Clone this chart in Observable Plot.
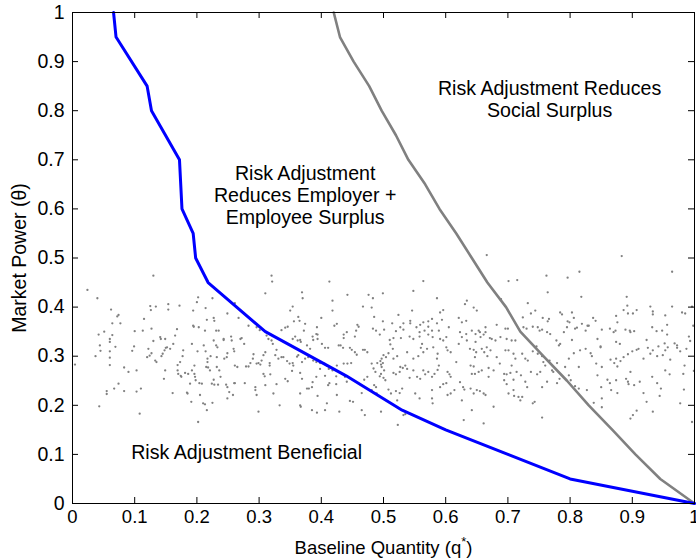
<!DOCTYPE html>
<html><head><meta charset="utf-8">
<script src="https://cdn.jsdelivr.net/npm/d3@7"></script>
<script src="https://cdn.jsdelivr.net/npm/@observablehq/plot@0.6"></script>
<style>
html,body{margin:0;padding:0;background:#fff;}
#chart{width:696px;height:560px;overflow:hidden;}
</style></head><body><div id="chart"></div>
<script>
const xTicks = [0, 0.1, 0.2, 0.3, 0.4, 0.5, 0.6, 0.7, 0.8, 0.9, 1];
const yTicks = [0, 0.1, 0.2, 0.3, 0.4, 0.5, 0.6, 0.7, 0.8, 0.9, 1];

// Employer + employee surplus boundary (blue)
const blueX = [0.066, 0.070, 0.120, 0.127, 0.172, 0.176, 0.194, 0.198, 0.218, 0.310, 0.440, 0.530, 0.600, 0.700, 0.800, 1.000];
const blueY = [1.00, 0.95, 0.85, 0.80, 0.70, 0.60, 0.55, 0.50, 0.45, 0.35, 0.26, 0.19, 0.15, 0.10, 0.05, 0.00];

// Social surplus boundary (gray)
const grayX = [0.420, 0.430, 0.452, 0.477, 0.497, 0.520, 0.540, 0.567, 0.590, 0.617, 0.642, 0.667, 0.697, 0.720, 0.757, 0.795, 0.830, 0.868, 0.905, 0.945, 1.000];
const grayY = [1.00, 0.95, 0.90, 0.85, 0.80, 0.75, 0.70, 0.65, 0.60, 0.55, 0.50, 0.45, 0.40, 0.35, 0.30, 0.25, 0.20, 0.15, 0.10, 0.05, 0.00];

// Firms (baseline quantity, market power)
const firms = [
[0.024,0.435],[0.040,0.418],[0.130,0.464],[0.004,0.283],[0.037,0.300],[0.042,0.344],[0.044,0.322],[0.045,0.311],[0.051,0.350],[0.060,0.335],[0.060,0.329],[0.060,0.310],[0.060,0.297],[0.060,0.282],[0.064,0.343],[0.062,0.395],[0.064,0.367],[0.072,0.381],[0.074,0.384],[0.077,0.367],[0.069,0.319],[0.083,0.277],[0.090,0.268],[0.055,0.229],[0.055,0.223],[0.067,0.234],[0.074,0.244],[0.083,0.229],[0.043,0.198],[0.108,0.183],[0.103,0.228],[0.110,0.234],[0.099,0.320],[0.096,0.311],[0.100,0.351],[0.103,0.271],[0.115,0.376],[0.113,0.352],[0.126,0.394],[0.125,0.402],[0.134,0.401],[0.127,0.356],[0.122,0.315],[0.120,0.298],[0.124,0.301],[0.127,0.306],[0.130,0.331],[0.133,0.291],[0.135,0.288],[0.141,0.339],[0.142,0.335],[0.143,0.300],[0.145,0.305],[0.148,0.312],[0.149,0.271],[0.147,0.254],[0.150,0.317],[0.152,0.318],[0.154,0.406],[0.154,0.395],[0.149,0.335],[0.157,0.315],[0.161,0.225],[0.162,0.325],[0.165,0.342],[0.168,0.355],[0.169,0.282],[0.172,0.403],[0.169,0.271],[0.170,0.264],[0.173,0.288],[0.174,0.260],[0.175,0.258],[0.177,0.300],[0.178,0.312],[0.181,0.266],[0.184,0.226],[0.185,0.224],[0.186,0.264],[0.189,0.244],[0.192,0.325],[0.192,0.271],[0.191,0.207],[0.194,0.393],[0.194,0.362],[0.195,0.360],[0.196,0.281],[0.196,0.264],[0.197,0.258],[0.198,0.251],[0.200,0.410],[0.202,0.420],[0.201,0.310],[0.203,0.359],[0.204,0.245],[0.205,0.221],[0.208,0.244],[0.210,0.204],[0.211,0.322],[0.213,0.352],[0.214,0.398],[0.214,0.310],[0.215,0.278],[0.216,0.374],[0.217,0.295],[0.217,0.288],[0.218,0.277],[0.221,0.271],[0.222,0.300],[0.224,0.244],[0.225,0.418],[0.227,0.378],[0.227,0.332],[0.228,0.372],[0.227,0.252],[0.228,0.242],[0.231,0.352],[0.231,0.322],[0.232,0.298],[0.232,0.278],[0.233,0.318],[0.234,0.242],[0.235,0.352],[0.236,0.271],[0.202,0.166],[0.225,0.205],[0.213,0.202],[0.216,0.190],
[0.320,0.464],[0.321,0.452],[0.413,0.452],[0.310,0.428],[0.369,0.430],[0.370,0.418],[0.442,0.425],[0.476,0.425],[0.418,0.413],[0.418,0.393],[0.467,0.401],[0.354,0.401],[0.350,0.393],[0.363,0.380],[0.356,0.371],[0.365,0.372],[0.400,0.378],[0.249,0.387],[0.267,0.378],[0.261,0.408],[0.425,0.366],[0.421,0.362],[0.458,0.364],[0.460,0.360],[0.283,0.362],[0.296,0.359],[0.301,0.353],[0.336,0.353],[0.342,0.358],[0.346,0.360],[0.374,0.366],[0.372,0.352],[0.393,0.359],[0.392,0.345],[0.441,0.349],[0.436,0.344],[0.436,0.337],[0.456,0.352],[0.454,0.340],[0.243,0.335],[0.243,0.333],[0.255,0.340],[0.256,0.332],[0.270,0.335],[0.272,0.337],[0.276,0.325],[0.312,0.342],[0.315,0.335],[0.320,0.332],[0.322,0.325],[0.328,0.313],[0.354,0.335],[0.358,0.340],[0.362,0.332],[0.366,0.333],[0.367,0.329],[0.377,0.322],[0.382,0.315],[0.386,0.340],[0.387,0.333],[0.394,0.344],[0.394,0.335],[0.401,0.325],[0.406,0.317],[0.411,0.317],[0.428,0.322],[0.431,0.322],[0.435,0.317],[0.446,0.317],[0.449,0.313],[0.454,0.308],[0.457,0.303],[0.467,0.313],[0.470,0.313],[0.474,0.308],[0.259,0.315],[0.260,0.310],[0.244,0.295],[0.249,0.306],[0.248,0.298],[0.261,0.281],[0.265,0.278],[0.279,0.279],[0.283,0.279],[0.286,0.286],[0.291,0.304],[0.290,0.295],[0.296,0.285],[0.299,0.286],[0.302,0.283],[0.307,0.302],[0.310,0.308],[0.304,0.291],[0.317,0.286],[0.317,0.281],[0.326,0.302],[0.331,0.295],[0.336,0.298],[0.339,0.298],[0.345,0.290],[0.349,0.285],[0.354,0.286],[0.355,0.281],[0.361,0.299],[0.363,0.302],[0.369,0.288],[0.374,0.295],[0.379,0.298],[0.387,0.291],[0.392,0.288],[0.398,0.286],[0.405,0.285],[0.409,0.281],[0.412,0.274],[0.418,0.271],[0.425,0.281],[0.436,0.285],[0.442,0.285],[0.448,0.286],[0.238,0.258],[0.247,0.242],[0.249,0.237],[0.252,0.227],[0.258,0.221],[0.260,0.245],[0.261,0.245],[0.249,0.214],[0.277,0.245],[0.294,0.231],[0.296,0.221],[0.294,0.237],[0.307,0.264],[0.309,0.259],[0.310,0.241],[0.318,0.263],[0.323,0.224],[0.328,0.243],[0.333,0.200],[0.342,0.254],[0.346,0.249],[0.353,0.270],[0.366,0.266],[0.366,0.224],[0.366,0.200],[0.367,0.197],[0.369,0.254],[0.377,0.234],[0.380,0.234],[0.385,0.237],[0.386,0.247],[0.392,0.258],[0.394,0.219],[0.398,0.274],[0.406,0.260],[0.411,0.241],[0.413,0.245],[0.409,0.204],[0.406,0.190],[0.424,0.259],[0.424,0.243],[0.425,0.221],[0.429,0.187],[0.438,0.258],[0.441,0.248],[0.446,0.209],[0.451,0.207],[0.465,0.225],[0.469,0.252],[0.465,0.190],[0.470,0.180],[0.474,0.258],[0.299,0.187],[0.385,0.190],[0.393,0.185],
[0.666,0.506],[0.564,0.453],[0.701,0.453],[0.715,0.455],[0.548,0.433],[0.483,0.418],[0.499,0.428],[0.586,0.418],[0.634,0.413],[0.631,0.406],[0.645,0.399],[0.650,0.393],[0.689,0.416],[0.481,0.399],[0.546,0.393],[0.591,0.389],[0.596,0.394],[0.485,0.380],[0.524,0.384],
[0.499,0.371],[0.514,0.367],[0.532,0.367],[0.543,0.372],[0.543,0.367],[0.559,0.364],[0.564,0.369],[0.572,0.371],[0.578,0.376],[0.586,0.367],[0.594,0.374],[0.621,0.378],[0.626,0.369],[0.633,0.372],[0.682,0.364],[0.696,0.356],[0.700,0.356],
[0.483,0.356],[0.488,0.352],[0.501,0.354],[0.520,0.351],[0.527,0.359],[0.532,0.354],[0.553,0.359],[0.558,0.349],[0.566,0.352],[0.572,0.360],[0.578,0.352],[0.589,0.352],[0.605,0.359],[0.623,0.349],[0.626,0.339],[0.633,0.345],[0.642,0.352],[0.648,0.345],[0.653,0.352],[0.655,0.349],[0.664,0.359],[0.664,0.349],[0.661,0.344],
[0.494,0.344],[0.510,0.333],[0.516,0.337],[0.528,0.337],[0.542,0.340],[0.548,0.335],[0.558,0.340],[0.572,0.344],[0.579,0.339],[0.591,0.335],[0.596,0.332],[0.601,0.339],[0.621,0.325],[0.634,0.332],[0.648,0.329],[0.656,0.339],[0.671,0.337],[0.674,0.335],[0.680,0.332],[0.688,0.339],[0.698,0.335],[0.706,0.332],[0.712,0.332],
[0.511,0.324],[0.515,0.315],[0.508,0.306],[0.500,0.302],[0.497,0.295],[0.504,0.298],[0.516,0.295],[0.522,0.300],[0.538,0.308],[0.548,0.295],[0.556,0.300],[0.562,0.325],[0.564,0.308],[0.560,0.317],[0.570,0.315],[0.580,0.318],[0.587,0.305],[0.586,0.295],[0.601,0.318],[0.603,0.312],[0.608,0.308],[0.639,0.315],[0.645,0.313],[0.649,0.308],[0.647,0.298],[0.658,0.315],[0.662,0.308],[0.667,0.300],[0.666,0.318],[0.672,0.312],[0.682,0.298],[0.696,0.312],[0.701,0.312],[0.709,0.305],[0.712,0.295],
[0.481,0.285],[0.490,0.286],[0.495,0.290],[0.496,0.283],[0.497,0.278],[0.499,0.286],[0.501,0.271],[0.484,0.275],[0.487,0.268],[0.496,0.264],[0.494,0.259],[0.500,0.256],[0.503,0.251],[0.485,0.241],[0.488,0.237],[0.481,0.231],[0.489,0.224],
[0.516,0.266],[0.520,0.263],[0.526,0.268],[0.527,0.278],[0.531,0.276],[0.535,0.281],[0.538,0.274],[0.542,0.256],[0.548,0.271],[0.554,0.258],[0.559,0.254],[0.564,0.271],[0.567,0.263],[0.572,0.268],[0.578,0.258],[0.582,0.264],[0.587,0.272],[0.589,0.281],[0.603,0.268],[0.606,0.263],[0.608,0.258],[0.617,0.288],[0.640,0.281],[0.645,0.279],[0.642,0.264],[0.647,0.264],[0.653,0.268],[0.658,0.271],[0.669,0.276],[0.669,0.258],[0.677,0.271],[0.687,0.285],[0.694,0.264],[0.698,0.263],[0.704,0.266],[0.709,0.252],[0.714,0.268],[0.706,0.281],
[0.508,0.232],[0.512,0.224],[0.520,0.229],[0.526,0.225],[0.522,0.210],[0.530,0.234],[0.551,0.224],[0.558,0.214],[0.578,0.214],[0.579,0.204],[0.578,0.231],[0.591,0.237],[0.596,0.243],[0.601,0.245],[0.603,0.221],[0.608,0.224],[0.614,0.231],[0.623,0.247],[0.628,0.237],[0.630,0.232],[0.626,0.210],[0.640,0.234],[0.645,0.224],[0.650,0.231],[0.655,0.229],[0.661,0.224],[0.664,0.221],[0.677,0.197],[0.694,0.251],[0.698,0.243],[0.701,0.224],[0.709,0.231],[0.710,0.219],[0.717,0.217],[0.642,0.190],[0.629,0.170],[0.661,0.163],[0.496,0.187],[0.532,0.180],[0.535,0.182],[0.523,0.160],
[0.883,0.504],[0.762,0.464],[0.796,0.460],[0.815,0.472],[0.964,0.472],[0.764,0.430],[0.818,0.421],[0.891,0.421],[0.732,0.408],
[0.724,0.379],[0.737,0.387],[0.744,0.393],[0.756,0.378],[0.766,0.376],[0.764,0.371],[0.784,0.389],[0.787,0.385],[0.796,0.371],[0.803,0.389],[0.806,0.378],[0.811,0.358],[0.819,0.366],[0.830,0.362],[0.837,0.378],[0.841,0.372],[0.874,0.382],[0.876,0.369],[0.886,0.394],[0.892,0.403],[0.893,0.387],[0.901,0.387],[0.907,0.394],[0.929,0.401],[0.933,0.391],[0.933,0.385],[0.953,0.383],[0.964,0.401],[0.980,0.389],[0.985,0.387],[0.996,0.401],
[0.725,0.359],[0.730,0.356],[0.740,0.360],[0.748,0.359],[0.751,0.352],[0.755,0.354],[0.763,0.349],[0.768,0.345],[0.778,0.332],[0.782,0.322],[0.784,0.325],[0.790,0.349],[0.795,0.359],[0.799,0.369],[0.803,0.333],[0.808,0.356],[0.825,0.352],[0.828,0.362],[0.844,0.335],[0.851,0.354],[0.849,0.320],[0.864,0.356],[0.870,0.349],[0.873,0.352],[0.874,0.329],[0.880,0.325],[0.889,0.354],[0.896,0.352],[0.897,0.349],[0.903,0.351],[0.923,0.333],[0.932,0.359],[0.939,0.351],[0.948,0.352],[0.952,0.326],[0.956,0.364],[0.956,0.344],[0.968,0.326],[0.972,0.322],[0.991,0.340],[0.993,0.331],[0.998,0.362],
[0.723,0.305],[0.728,0.295],[0.732,0.291],[0.740,0.310],[0.746,0.320],[0.748,0.305],[0.755,0.300],[0.757,0.288],[0.760,0.281],[0.767,0.291],[0.771,0.271],[0.779,0.286],[0.792,0.278],[0.798,0.295],[0.806,0.306],[0.814,0.278],[0.816,0.312],[0.825,0.315],[0.833,0.306],[0.835,0.300],[0.842,0.285],[0.849,0.318],[0.851,0.278],[0.865,0.293],[0.871,0.286],[0.874,0.295],[0.876,0.279],[0.881,0.290],[0.886,0.298],[0.893,0.304],[0.900,0.310],[0.907,0.313],[0.910,0.315],[0.918,0.295],[0.925,0.317],[0.929,0.305],[0.933,0.312],[0.940,0.300],[0.942,0.320],[0.949,0.302],[0.953,0.312],[0.957,0.318],[0.961,0.293],[0.972,0.317],[0.977,0.310],[0.984,0.281],[0.987,0.315],
[0.721,0.261],[0.728,0.248],[0.731,0.237],[0.737,0.268],[0.747,0.263],[0.752,0.268],[0.755,0.237],[0.763,0.248],[0.773,0.268],[0.779,0.245],[0.783,0.254],[0.798,0.261],[0.801,0.251],[0.808,0.239],[0.814,0.234],[0.827,0.231],[0.844,0.261],[0.850,0.237],[0.860,0.252],[0.864,0.245],[0.866,0.231],[0.874,0.251],[0.876,0.225],[0.890,0.254],[0.893,0.248],[0.894,0.243],[0.897,0.268],[0.903,0.241],[0.912,0.248],[0.918,0.225],[0.932,0.258],[0.940,0.245],[0.946,0.234],[0.953,0.271],[0.960,0.263],[0.982,0.264],[0.983,0.232],[0.999,0.270],
[0.720,0.210],[0.723,0.217],[0.740,0.204],[0.743,0.207],[0.755,0.175],[0.838,0.205],[0.851,0.214],[0.851,0.196],[0.897,0.173],[0.901,0.180],[0.907,0.189],[0.923,0.207],[0.933,0.187],[0.944,0.219],[0.977,0.204],[0.996,0.166]
];

const annX = [0.767, 0.374, 0.280];
const annY = [0.823, 0.629, 0.104];
const annText = [
  "Risk Adjustment Reduces\nSocial Surplus",
  "Risk Adjustment\nReduces Employer +\nEmployee Surplus",
  "Risk Adjustment Beneficial"
];

const blue = blueX.map((x, i) => ({x, y: blueY[i]}));
const gray = grayX.map((x, i) => ({x, y: grayY[i]}));
const annotations = annX.map((x, i) => ({x, y: annY[i], text: annText[i]}));
const fmt = d => String(d);
const font = '"Liberation Sans", Arial, Helvetica, sans-serif';

const W = 696, H = 560, ML = 72, MR = 2, MT = 12, MB = 57, TICK = 6;
const innerW = W - ML - MR, innerH = H - MT - MB;

const plot = Plot.plot({
  width: W,
  height: H,
  marginLeft: ML,
  marginRight: MR,
  marginTop: MT,
  marginBottom: MB,
  style: {fontFamily: font, fontSize: "18.5px", color: "black", background: "white", overflow: "visible"},
  x: {domain: [0, 1]},
  y: {domain: [0, 1]},
  marks: [
    Plot.dot(firms, {x: d => d[0], y: d => d[1], r: 1.15, fill: "#808080", stroke: "none"}),
    Plot.line(gray, {x: "x", y: "y", stroke: "#808080", strokeWidth: 2.6}),
    Plot.line(blue, {x: "x", y: "y", stroke: "#0000ff", strokeWidth: 3}),
    Plot.text(annotations, {x: "x", y: "y", text: "text", fontSize: 19.6, lineHeight: 1.12, fill: "black"}),
    // inward ticks on all four sides (MATLAB box style)
    Plot.ruleX(xTicks, {x: d => d, insetTop: innerH - TICK, stroke: "black"}),
    Plot.ruleX(xTicks, {x: d => d, insetBottom: innerH - TICK, stroke: "black"}),
    Plot.ruleY(yTicks, {y: d => d, insetRight: innerW - TICK, stroke: "black"}),
    Plot.ruleY(yTicks, {y: d => d, insetLeft: innerW - TICK, stroke: "black"}),
    Plot.frame({stroke: "black", strokeWidth: 1}),
    Plot.axisX({ticks: xTicks, anchor: "bottom", tickSize: 0, tickPadding: 6, tickFormat: fmt,
      label: "Baseline Quantity (q*)", labelAnchor: "center", labelOffset: 50, labelArrow: "none"}),
    Plot.axisY({ticks: yTicks, anchor: "left", tickSize: 0, tickPadding: 8, tickFormat: fmt,
      label: "Market Power (θ)", labelAnchor: "center", labelOffset: 60, labelArrow: "none", fontSize: 19.5})
  ]
});

document.getElementById("chart").appendChild(plot);

// superscript asterisk in the x-axis label
const lab = d3.select(plot).select('g[aria-label="x-axis label"] text');
if (!lab.empty()) {
  lab.text("Baseline Quantity (q");
  lab.append("tspan").attr("dy", "-0.55em").attr("font-size", "0.7em").text("*");
  lab.append("tspan").attr("dy", "0.4em").text(")");
}
</script>
</body></html>
